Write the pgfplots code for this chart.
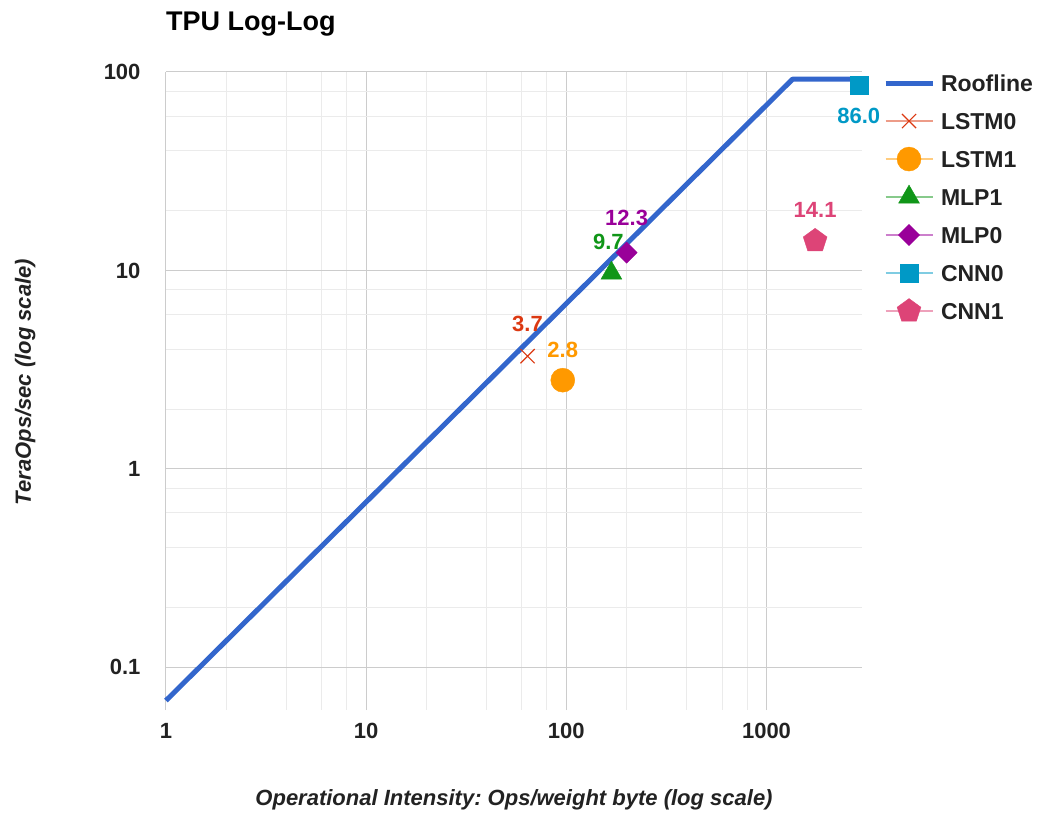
\documentclass[border=0pt]{standalone}
\usepackage{pgfplots}
\pgfplotsset{compat=1.18}
\usepackage{fontspec}
\setmainfont{Liberation Sans}
\usetikzlibrary{plotmarks}
\definecolor{roof}{HTML}{3366CC}
\definecolor{clstmA}{HTML}{DC3912}
\definecolor{clstmB}{HTML}{FF9900}
\definecolor{cmlpA}{HTML}{109618}
\definecolor{cmlpB}{HTML}{990099}
\definecolor{ccnnA}{HTML}{0099C6}
\definecolor{ccnnB}{HTML}{DD4477}
\definecolor{gmaj}{HTML}{CCCCCC}
\definecolor{gmin}{HTML}{EBEBEB}
\definecolor{txt}{HTML}{222222}
\frenchspacing
\pgfplotsset{
  mkleg/.style={legend image code/.code={
      \draw[##1,mark=none,draw opacity=0.5,line width=2pt] (0pt,0pt) -- (47pt,0pt);
      \draw[##1] plot coordinates {(23.5pt,0pt)};}},
  lbl/.style={nodes near coords={\textbf{#1}},
      every node near coord/.append style={font=\fontsize{22}{26}\selectfont\bfseries, inner sep=0pt, anchor=south, yshift=23pt}},
}
\begin{document}
\begin{tikzpicture}
\useasboundingbox (-166pt,-127pt) rectangle (874pt,710pt);
\begin{axis}[
  at={(0pt,0pt)}, anchor=south west,
  width=696pt, height=638pt, scale only axis,
  xmode=log, ymode=log,
  xmin=1, xmax=3000, ymin=0.061, ymax=100,
  xtick={1,10,100,1000}, xticklabels={1,10,100,1000},
  ytick={0.1,1,10,100}, yticklabels={0.1,1,10,100},
  minor xtick={2,4,6,8,20,40,60,80,200,400,600,800},
  minor ytick={0.2,0.4,0.6,0.8,2,4,6,8,20,40,60,80},
  grid=both,
  major grid style={draw=gmaj, line width=1pt},
  minor grid style={draw=gmin, line width=1pt},
  axis line style={draw=none},
  major tick length=0pt, minor tick length=0pt,
  tick style={draw=none},
  xticklabel style={font=\fontsize{22}{26}\selectfont\bfseries, text=txt, yshift=-10pt},
  yticklabel style={font=\fontsize{22}{26}\selectfont\bfseries, text=txt, xshift=-22pt},
  clip=false,
  legend style={at={(1.0302,1.003)}, anchor=north west, draw=none, fill=none,
    inner sep=0pt, outer sep=0pt, row sep=12pt,
    font=\fontsize{23}{27}\selectfont\bfseries,
    nodes={inner sep=0pt, text height=21pt, text depth=5pt, text=txt},
    /tikz/every odd column/.append style={column sep=6pt}},
  legend cell align=left,
]
\addplot[roof, line width=5pt, line join=round, mark=none,
  legend image code/.code={\draw[roof,line width=5pt] (0pt,0pt) -- (47pt,0pt);}]
  coordinates {(1,0.0681) (1350,92) (2900,92)};
\addlegendentry{Roofline}

\addplot[clstmA, mkleg, mark=x, mark size=10pt, line width=1.2pt, lbl={3.7},
  every node near coord/.append style={text=clstmA, yshift=1pt}]
  coordinates {(64,3.7)};
\addlegendentry{LSTM0}

\addplot[clstmB, mkleg, mark=*, mark size=12pt, line width=0.4pt, lbl={2.8},
  every node near coord/.append style={text=clstmB, yshift=-1pt}]
  coordinates {(96,2.8)};
\addlegendentry{LSTM1}

\addplot[cmlpA, mkleg, mark=triangle*, mark size=12pt, line width=0.4pt, lbl={9.7},
  every node near coord/.append style={text=cmlpA, xshift=-3pt}]
  coordinates {(168,9.7)};
\addlegendentry{MLP1}

\addplot[cmlpB, mkleg, mark=square*, mark options={rotate=45}, mark size=7.5pt, line width=0.4pt, lbl={12.3},
  every node near coord/.append style={text=cmlpB, yshift=4pt}]
  coordinates {(200,12.3)};
\addlegendentry{MLP0}

\addplot[ccnnA, mkleg, mark=square*, mark size=9pt, line width=0.4pt, lbl={86.0},
  every node near coord/.append style={text=ccnnA, yshift=-62pt}]
  coordinates {(2888,86)};
\addlegendentry{CNN0}

\addplot[ccnnB, mkleg, mark=pentagon*, mark size=12.5pt, line width=0.4pt, lbl={14.1},
  every node near coord/.append style={text=ccnnB}]
  coordinates {(1750,14.1)};
\addlegendentry{CNN1}
\end{axis}
\node[anchor=base west, inner sep=0pt, font=\fontsize{27}{32}\selectfont\bfseries] at (0pt,679pt) {TPU Log-Log};
\node[anchor=base, rotate=90, inner sep=0pt, text=txt, font=\fontsize{22}{26}\selectfont\bfseries\itshape] at (-135pt,328pt) {TeraOps/sec (log scale)};
\node[anchor=base, inner sep=0pt, text=txt, font=\fontsize{22}{26}\selectfont\bfseries\itshape] at (348pt,-95pt) {Operational Intensity: Ops/weight byte (log scale)};
\end{tikzpicture}
\end{document}
